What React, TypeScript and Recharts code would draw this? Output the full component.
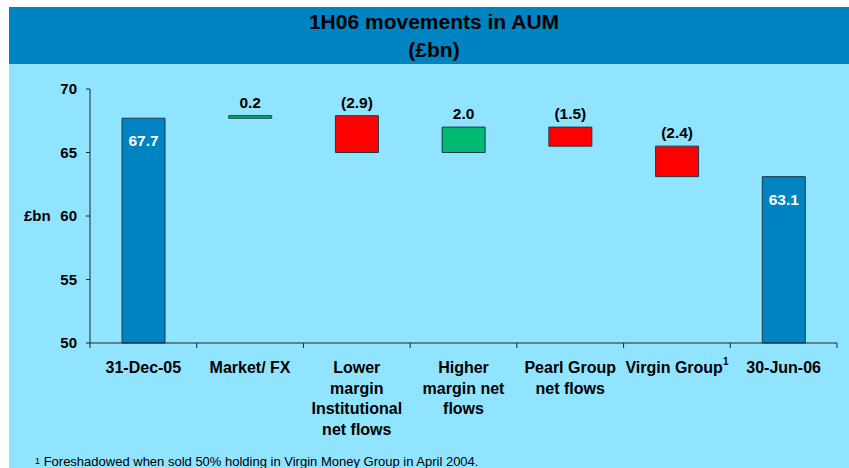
import { BarChart, Bar, XAxis, YAxis, Cell, LabelList } from "recharts";

const categories = [
  "31-Dec-05",
  "Market/ FX",
  "Lower margin Institutional net flows",
  "Higher margin net flows",
  "Pearl Group net flows",
  "Virgin Group",
  "30-Jun-06",
];
const tickLines = [
  ["31-Dec-05"],
  ["Market/ FX"],
  ["Lower", "margin", "Institutional", "net flows"],
  ["Higher", "margin net", "flows"],
  ["Pearl Group", "net flows"],
  ["Virgin Group"],
  ["30-Jun-06"],
];
const movements = [67.7, 0.2, -2.9, 2.0, -1.5, -2.4, 63.1];
const isTotal = [true, false, false, false, false, false, true];
const yTicks = [50, 55, 60, 65, 70];

const FONT = "'Liberation Sans', Arial, Helvetica, sans-serif";
const TOTAL_COLOR = "#0083C1";
const UP_COLOR = "#00BA72";
const DOWN_COLOR = "#FF0000";
const BG = "#91E4FF";
const BAND = 747 / 7;

// waterfall: each bar is a [low, high] range
let running = 0;
const data = categories.map((name, i) => {
  const v = movements[i];
  let range: [number, number];
  if (isTotal[i]) {
    range = [50, v];
    running = v;
  } else {
    const next = Math.round((running + v) * 10) / 10;
    range = [Math.min(running, next), Math.max(running, next)];
    running = next;
  }
  return { name, range, value: v, total: isTotal[i] };
});

function fmt(v: number) {
  return v < 0 ? `(${Math.abs(v).toFixed(1)})` : v.toFixed(1);
}

function BarLabel(props: any) {
  const { x = 0, y = 0, width = 0, index = 0 } = props;
  const d = data[index];
  if (d.total) {
    return (
      <text x={x + width / 2} y={y + 28} textAnchor="middle" fill="#fff" fontSize={15.5} fontWeight={700} fontFamily={FONT}>
        {fmt(d.value)}
      </text>
    );
  }
  return (
    <text x={x + width / 2} y={y - 8} textAnchor="middle" fill="#000" fontSize={15.5} fontWeight={700} fontFamily={FONT}>
      {fmt(d.value)}
    </text>
  );
}

function XTick(props: any) {
  const { x = 0, y = 0, index = 0 } = props;
  const lines = tickLines[index] || [];
  const top = y - 8;
  return (
    <g>
      <line x1={x - BAND / 2} x2={x - BAND / 2} y1={top} y2={top + 5} stroke="#222" />
      {index === categories.length - 1 && (
        <line x1={x + BAND / 2} x2={x + BAND / 2} y1={top} y2={top + 5} stroke="#222" />
      )}
      <text x={x} y={top + 30} textAnchor="middle" fill="#000" fontSize={16} fontWeight={700} fontFamily={FONT}>
        {lines.map((l, i) => (
          <tspan key={i} x={x} dy={i === 0 ? 0 : 20.5}>
            {l}
            {l === "Virgin Group" && (
              <tspan fontSize={10} dy={-8}>
                1
              </tspan>
            )}
          </tspan>
        ))}
      </text>
    </g>
  );
}

export default function App() {
  return (
    <div style={{ position: "absolute", left: 0, top: 0, width: 849, height: 468, background: "#fff", overflow: "hidden", fontFamily: FONT }}>
      <div style={{ position: "absolute", left: 9, top: 64, width: 840, height: 404, background: BG }} />
      <div
        style={{
          position: "absolute",
          left: 9,
          top: 7,
          width: 840,
          height: 57,
          background: TOTAL_COLOR,
          textAlign: "center",
          fontWeight: 700,
          fontSize: 21,
          lineHeight: "28px",
          paddingLeft: 10,
          boxSizing: "border-box",
          color: "#000",
        }}
      >
        <div style={{ marginTop: 1 }}>1H06 movements in AUM</div>
        <div>(£bn)</div>
      </div>
      <div style={{ position: "absolute", left: 24, top: 207, fontSize: 15, fontWeight: 700 }}>£bn</div>
      <div style={{ position: "absolute", left: 35, top: 454, fontSize: 13, whiteSpace: "nowrap" }}>
        <span style={{ fontSize: 9, verticalAlign: "top", position: "relative", top: 2 }}>1</span> Foreshadowed when sold 50% holding in Virgin Money Group in April 2004.
      </div>
      <div style={{ position: "absolute", left: 0, top: 0 }}>
        <BarChart width={849} height={468} data={data} margin={{ top: 89, right: 12, left: 30, bottom: 25 }} barSize={43}>
          <XAxis
            dataKey="name"
            interval={0}
            height={100}
            tickLine={false}
            axisLine={{ stroke: "#222" }}
            tick={<XTick />}
          />
          <YAxis
            domain={[50, 70]}
            ticks={yTicks}
            width={60}
            tickSize={4}
            tickMargin={9}
            axisLine={{ stroke: "#222" }}
            tickLine={{ stroke: "#222" }}
            tick={{ fill: "#000", fontSize: 15, fontWeight: 700, fontFamily: FONT }}
          />
          <Bar dataKey="range" isAnimationActive={false} stroke="#1d3b48" strokeWidth={1}>
            {data.map((d, i) => (
              <Cell key={i} fill={d.total ? TOTAL_COLOR : d.value >= 0 ? UP_COLOR : DOWN_COLOR} />
            ))}
            <LabelList dataKey="value" content={<BarLabel />} />
          </Bar>
        </BarChart>
      </div>
    </div>
  );
}
